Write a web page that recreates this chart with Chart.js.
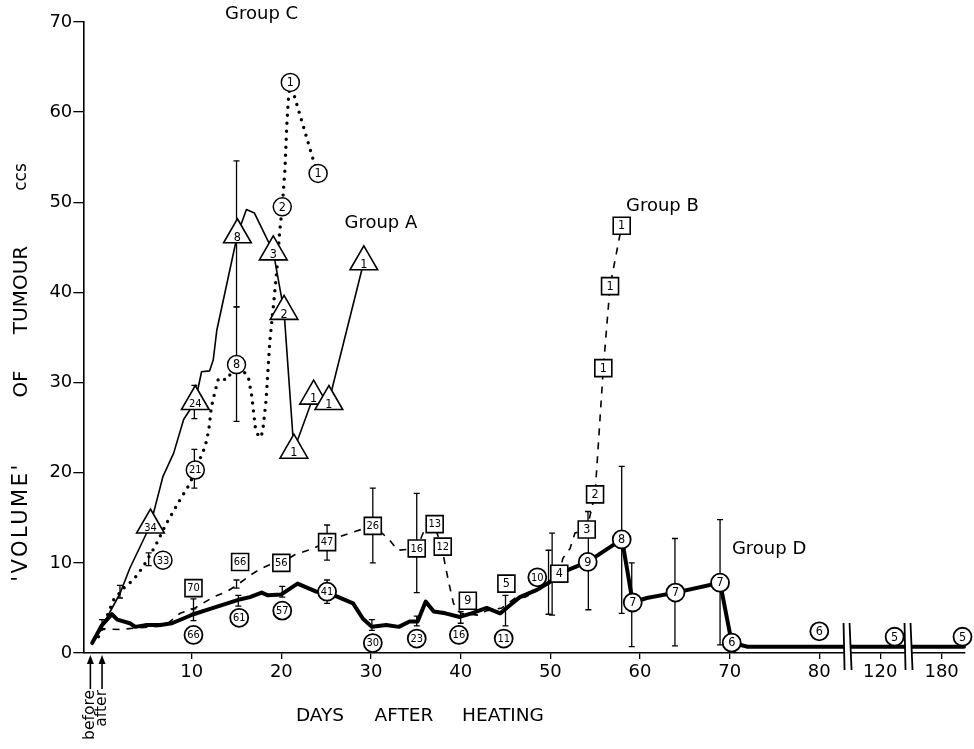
<!DOCTYPE html>
<html><head><meta charset="utf-8">
<script src="https://cdn.jsdelivr.net/npm/chart.js@4/dist/chart.umd.min.js"></script>
<style>html,body{margin:0;padding:0;background:#fff}canvas{display:block}</style>
</head><body>
<canvas id="c" width="974" height="749"></canvas>
<script>
// ---------------- DATA ----------------
const xTickValues = [10, 20, 30, 40, 50, 60, 70, 80, 120, 180];
const yTickValues = [0, 10, 20, 30, 40, 50, 60, 70];

// Group A (thin solid line, triangles)
const aDays = [-1.1, 0.2, 2.0, 3.1, 5.4, 6.8, 8.0, 9.1, 10.4, 11.1, 12.0, 12.4, 12.8, 15.1, 16.1, 17.0, 19.1, 20.3, 21.4, 23.6, 25.3, 29.2];
const aVols = [1.1, 3.3, 6.6, 9.4, 14.2, 19.6, 22.2, 25.9, 27.9, 31.2, 31.3, 32.5, 35.8, 46.4, 49.2, 48.8, 44.5, 37.9, 22.5, 28.5, 27.9, 43.4];
const aMarkDays = [5.4, 10.4, 15.1, 19.1, 20.3, 21.4, 23.6, 25.3, 29.2];
const aMarkVols = [14.2, 27.9, 46.4, 44.5, 37.9, 22.5, 28.5, 27.9, 43.4];
const aMarkLabels = ['34', '24', '8', '3', '2', '1', '1', '1', '1'];
const aErrDays = [0.0, 2.0, 10.3, 15.0];
const aErrLow = [2.6, 6.1, 26.0, 38.4];
const aErrHigh = [3.7, 7.5, 29.7, 54.6];

// Group B (dashed line, squares)
const bDays = [-1.1, 0.0, 2.0, 4.0, 7.0, 8.7, 10.2, 12.4, 13.9, 15.0, 16.5, 17.6, 18.7, 20.0, 21.5, 23.3, 25.1, 26.2, 28.3, 30.1, 31.1, 32.0, 33.0, 35.1, 36.1, 37.0, 37.9, 38.3, 38.7, 39.2, 40.0, 42.0, 42.9, 44.6, 46.1, 47.2, 48.7, 51.0, 51.4, 52.2, 52.75, 54.06, 54.99, 55.91, 56.66, 57.96];
const bVols = [1.1, 2.7, 2.6, 2.8, 3.0, 4.4, 4.9, 6.2, 6.8, 7.5, 8.6, 9.3, 9.8, 10.0, 10.9, 11.5, 12.3, 12.8, 13.5, 14.1, 13.4, 12.6, 11.4, 11.6, 14.0, 14.3, 11.8, 9.6, 7.7, 5.5, 4.4, 4.2, 4.7, 5.0, 6.1, 6.2, 7.0, 8.8, 10.5, 11.6, 13.3, 13.7, 17.6, 31.6, 40.7, 47.4];
const bMarkDays = [10.2, 15.4, 20.0, 25.1, 30.2, 35.1, 37.1, 38.0, 40.8, 45.1, 51.0, 54.06, 54.99, 55.91, 56.66, 57.96];
const bMarkVols = [7.2, 10.1, 10.0, 12.3, 14.1, 11.6, 14.3, 11.8, 5.8, 7.7, 8.8, 13.7, 17.6, 31.6, 40.7, 47.4];
const bMarkLabels = ['70', '66', '56', '47', '26', '16', '13', '12', '9', '5', '4', '3', '2', '1', '1', '1'];
const bErrDays = [10.2, 15.0, 25.1, 30.2, 35.1, 45.0, 50.2, 54.2];
const bErrLow = [4.4, 7.2, 10.3, 10.0, 6.7, 3.0, 4.2, 13.7];
const bErrHigh = [6.0, 8.1, 14.2, 18.3, 17.7, 6.4, 13.3, 15.7];

// Group C (dotted line, circles)
const cDays = [-0.4, 1.3, 2.6, 3.5, 4.6, 5.9, 7.2, 8.7, 9.8, 10.4, 11.5, 11.9, 12.2, 12.6, 13.0, 13.9, 15.0, 16.3, 16.7, 17.1, 17.5, 17.9, 18.3, 18.7, 19.1, 19.5, 19.8, 20.1, 20.4, 20.6, 20.8, 21.0, 23.5, 24.1];
const cVols = [1.8, 5.9, 7.4, 8.1, 9.6, 11.8, 14.4, 17.0, 18.8, 20.3, 22.9, 24.7, 27.3, 29.0, 30.5, 30.3, 32.0, 30.7, 28.5, 25.0, 23.9, 24.4, 28.1, 34.4, 38.4, 42.5, 46.6, 49.5, 53.6, 58.4, 61.7, 63.3, 54.9, 53.2];
const cMarkDays = [6.8, 10.4, 15.0, 20.1, 21.0, 24.1];
const cMarkVols = [10.3, 20.3, 32.0, 49.5, 63.3, 53.2];
const cMarkLabels = ['33', '21', '8', '2', '1', '1'];
const cErrDays = [5.2, 10.3, 15.0];
const cErrLow = [9.7, 18.3, 25.7];
const cErrHigh = [11.1, 22.6, 38.4];

// Group D (thick solid line, circles)
const dDays = [-1.1, 0.0, 1.1, 1.7, 3.1, 3.7, 5.0, 6.5, 7.8, 10.2, 12.4, 15.2, 16.5, 17.8, 18.5, 20.0, 21.8, 23.9, 25.1, 26.1, 28.0, 29.1, 30.1, 31.7, 33.1, 34.3, 35.2, 36.1, 37.0, 38.3, 39.9, 41.2, 42.9, 44.4, 45.5, 46.6, 48.5, 50.0, 50.7, 54.17, 57.96, 58.1, 59.19, 60.75, 63.96, 68.93, 70.23, 72.0, 124.8, 187.5];
const dVols = [1.1, 3.1, 4.3, 3.7, 3.3, 2.9, 3.1, 3.1, 3.3, 4.3, 5.0, 5.9, 6.2, 6.7, 6.4, 6.5, 7.7, 6.8, 6.8, 6.3, 5.5, 3.8, 2.9, 3.1, 2.9, 3.5, 3.5, 5.7, 4.6, 4.4, 4.0, 4.4, 5.0, 4.4, 5.3, 6.2, 7.0, 7.9, 8.7, 10.1, 12.6, 12.0, 5.6, 6.1, 6.7, 7.8, 1.15, 0.7, 0.7, 0.7];
const dMarkDays = [10.2, 15.3, 20.1, 25.1, 30.2, 35.1, 39.8, 44.8, 48.55, 54.17, 57.96, 59.19, 63.96, 68.93, 70.23, 80.0, 124.8, 187.0];
const dMarkVols = [2.0, 3.9, 4.7, 6.8, 1.1, 1.6, 2.0, 1.6, 8.4, 10.1, 12.6, 5.6, 6.7, 7.8, 1.15, 2.4, 1.8, 1.8];
const dMarkLabels = ['66', '61', '57', '41', '30', '23', '16', '11', '10', '9', '8', '7', '7', '7', '6', '6', '5', '5'];
const dErrDays = [10.2, 15.2, 20.1, 25.1, 30.1, 35.1, 40.0, 49.8, 54.24, 57.96, 59.08, 63.9, 68.93];
const dErrLow = [3.6, 5.2, 6.2, 5.5, 2.5, 3.0, 3.3, 4.3, 4.8, 4.4, 0.7, 0.8, 0.9];
const dErrHigh = [4.9, 6.4, 7.4, 8.1, 3.7, 4.1, 4.6, 11.4, 13.7, 20.7, 10.0, 12.7, 14.8];

// annotations
const groupLabelTexts = ['Group A', 'Group B', 'Group C', 'Group D'];
const groupLabelDays = [31.1, 62.5, 17.8, 74.4];
const groupLabelVols = [47.7, 49.6, 70.8, 11.5];
const arrowLabels = ['before', 'after'];
const arrowDays = [-1.3, 0];

// broken x axis: real day -> plotted position (piecewise linear)
const breakRealKnots = [-3, 83, 111, 129, 171, 191];
const breakVirtKnots = [-3, 83, 83.8, 89.8, 90.65, 97.3];
const breakMarks = [83.15, 89.95];

// ---------------- HELPERS ----------------
function interp(v, xs, ys) {
  let i = 0;
  if (v <= xs[0]) i = 0;
  else if (v >= xs[xs.length - 1]) i = xs.length - 2;
  else { while (v > xs[i + 1]) i++; }
  return ys[i] + (v - xs[i]) * (ys[i + 1] - ys[i]) / (xs[i + 1] - xs[i]);
}
const toV = d => interp(d, breakRealKnots, breakVirtKnots);
const fromV = v => interp(v, breakVirtKnots, breakRealKnots);

class BrokenLinearScale extends Chart.LinearScale {
  parse(raw, index) {
    const v = super.parse(raw, index);
    return v === null || v === undefined ? v : toV(v);
  }
}
BrokenLinearScale.id = 'brokenLinear';
BrokenLinearScale.defaults = Chart.LinearScale.defaults;
Chart.register(BrokenLinearScale);

const FONT = "'DejaVu Sans', sans-serif";
const pts = (xs, ys) => xs.map((x, i) => ({ x: x, y: ys[i] }));

function lineDs(days, vols, width, dash, cap) {
  return { data: pts(days, vols), showLine: true, borderColor: '#000', borderWidth: width,
    borderDash: dash, borderCapStyle: cap, borderJoinStyle: 'round', pointRadius: 0,
    pointHoverRadius: 0, tension: 0, fill: false, clip: false, order: 10 };
}
function markDs(days, vols, labels, style, radius, bw) {
  return { data: pts(days, vols), showLine: false, pointStyle: style, pointRadius: radius,
    pointHoverRadius: radius, pointBackgroundColor: '#fff', pointBorderColor: '#000',
    pointBorderWidth: bw, clip: false, order: 0, numLabels: labels };
}

const errorGroups = [
  { days: aErrDays, low: aErrLow, high: aErrHigh },
  { days: bErrDays, low: bErrLow, high: bErrHigh },
  { days: cErrDays, low: cErrLow, high: cErrHigh },
  { days: dErrDays, low: dErrLow, high: dErrHigh }
];

const errorBarPlugin = {
  id: 'errorBars',
  beforeDatasetsDraw(chart) {
    const ctx = chart.ctx, xs = chart.scales.x, ys = chart.scales.y;
    ctx.save();
    ctx.strokeStyle = '#000'; ctx.lineWidth = 1.3;
    errorGroups.forEach(g => {
      g.days.forEach((d, i) => {
        const x = xs.getPixelForValue(toV(d));
        const y1 = ys.getPixelForValue(g.low[i]);
        const y2 = ys.getPixelForValue(g.high[i]);
        ctx.beginPath();
        ctx.moveTo(x, y1); ctx.lineTo(x, y2);
        ctx.moveTo(x - 3, y1); ctx.lineTo(x + 3, y1);
        ctx.moveTo(x - 3, y2); ctx.lineTo(x + 3, y2);
        ctx.stroke();
      });
    });
    ctx.restore();
  }
};

const numberLabelPlugin = {
  id: 'numberLabels',
  afterDatasetsDraw(chart) {
    const ctx = chart.ctx;
    ctx.save();
    ctx.fillStyle = '#000'; ctx.textAlign = 'center'; ctx.textBaseline = 'middle';
    chart.data.datasets.forEach((ds, i) => {
      if (!ds.numLabels) return;
      const meta = chart.getDatasetMeta(i);
      meta.data.forEach((p, j) => {
        const t = ds.numLabels[j];
        const size = t.length > 1 ? 11 : 12.5;
        ctx.font = size + "px 'DejaVu Sans Condensed', 'DejaVu Sans', sans-serif";
        const dy = ds.pointStyle === 'triangle' ? 3 : 0.5;
        ctx.fillText(t, p.x, p.y + dy);
      });
    });
    ctx.restore();
  }
};

const annotationPlugin = {
  id: 'annotations',
  afterDraw(chart) {
    const ctx = chart.ctx, xs = chart.scales.x, ys = chart.scales.y, area = chart.chartArea;
    ctx.save();
    ctx.fillStyle = '#000'; ctx.strokeStyle = '#000';
    // group labels
    ctx.font = '18px ' + FONT; ctx.textAlign = 'center'; ctx.textBaseline = 'middle';
    groupLabelTexts.forEach((t, i) => {
      ctx.fillText(t, xs.getPixelForValue(toV(groupLabelDays[i])), ys.getPixelForValue(groupLabelVols[i]));
    });
    // x title
    ctx.font = '18.5px ' + FONT;
    ctx.fillText('DAYS', 320, 716);
    ctx.fillText('AFTER', 404, 716);
    ctx.fillText('HEATING', 503, 716);
    // y title (rotated)
    ctx.save();
    ctx.translate(22, 0);
    ctx.rotate(-Math.PI / 2);
    ctx.font = '21px ' + FONT;
    ctx.letterSpacing = '2.5px';
    ctx.fillText("'VOLUME'", -522, 0);
    ctx.letterSpacing = '0px';
    ctx.font = '20px ' + FONT;
    ctx.fillText('OF', -384, 0);
    ctx.fillText('TUMOUR', -290, 0);
    ctx.font = '17px ' + FONT;
    ctx.fillText('ccs', -177, 0);
    ctx.restore();
    // before / after arrows
    const yb = area.bottom;
    arrowDays.forEach((d, i) => {
      const x = xs.getPixelForValue(toV(d));
      ctx.lineWidth = 1.6;
      ctx.beginPath(); ctx.moveTo(x, yb + 36); ctx.lineTo(x, yb + 8); ctx.stroke();
      ctx.beginPath(); ctx.moveTo(x, yb + 2); ctx.lineTo(x - 3.5, yb + 11); ctx.lineTo(x + 3.5, yb + 11); ctx.closePath(); ctx.fill();
      ctx.save();
      ctx.translate(x, yb + 37);
      ctx.rotate(-Math.PI / 2);
      ctx.font = '15.5px ' + FONT; ctx.textAlign = 'right'; ctx.textBaseline = 'middle';
      ctx.fillText(arrowLabels[i], 0, 0);
      ctx.restore();
    });
    // axis break marks
    breakMarks.forEach(v => {
      const x = xs.getPixelForValue(v);
      ctx.fillStyle = '#fff';
      ctx.fillRect(x - 3, yb - 9, 6, 13);
      ctx.strokeStyle = '#000'; ctx.lineWidth = 1.8;
      ctx.beginPath();
      ctx.moveTo(x - 4, yb - 30); ctx.lineTo(x - 3, yb + 17);
      ctx.moveTo(x + 2, yb - 30); ctx.lineTo(x + 4, yb + 17);
      ctx.stroke();
    });
    ctx.restore();
  }
};

// ---------------- CHART ----------------
new Chart(document.getElementById('c'), {
  type: 'scatter',
  data: {
    datasets: [
      markDs(aMarkDays, aMarkVols, aMarkLabels, 'triangle', 16, 1.6),
      markDs(bMarkDays, bMarkVols, bMarkLabels, 'rect', 12, 1.6),
      markDs(cMarkDays, cMarkVols, cMarkLabels, 'circle', 9, 1.5),
      markDs(dMarkDays, dMarkVols, dMarkLabels, 'circle', 9, 1.8),
      lineDs(aDays, aVols, 1.6, [], 'butt'),
      lineDs(bDays, bVols, 1.6, [7, 7], 'butt'),
      lineDs(cDays, cVols, 3.4, [0, 8], 'round'),
      lineDs(dDays, dVols, 4, [], 'round')
    ]
  },
  options: {
    responsive: false,
    animation: false,
    devicePixelRatio: 1,
    layout: { autoPadding: false, padding: { top: 22, right: 9, left: 0, bottom: 0 } },
    plugins: { legend: { display: false }, tooltip: { enabled: false } },
    scales: {
      x: {
        type: 'brokenLinear', position: 'bottom', bounds: 'data',
        // limits given in days; the scale maps them through the axis break
        min: -2.09, max: fromV(96.25),
        afterBuildTicks: s => { s.ticks = xTickValues.map(d => ({ value: toV(d) })); },
        afterFit: s => { s.height = 96; s.paddingLeft = 0; s.paddingRight = 0; },
        ticks: { autoSkip: false, maxRotation: 0, padding: 3, color: '#000',
          font: { family: FONT, size: 18 },
          callback: v => String(Math.round(fromV(v))) },
        grid: { drawOnChartArea: false, drawTicks: true, tickLength: 6, color: '#000', lineWidth: 1.3 },
        border: { display: true, color: '#000', width: 1.6 }
      },
      y: {
        type: 'linear', min: 0, max: 70,
        afterBuildTicks: s => { s.ticks = yTickValues.map(v => ({ value: v })); },
        afterFit: s => { s.width = 83.3; },
        ticks: { padding: 1, color: '#000', font: { family: FONT, size: 18 } },
        grid: { drawOnChartArea: false, drawTicks: true, tickLength: 10, color: '#000', lineWidth: 1.3 },
        border: { display: true, color: '#000', width: 1.6 }
      }
    }
  },
  plugins: [errorBarPlugin, numberLabelPlugin, annotationPlugin]
});
</script>
</body></html>
